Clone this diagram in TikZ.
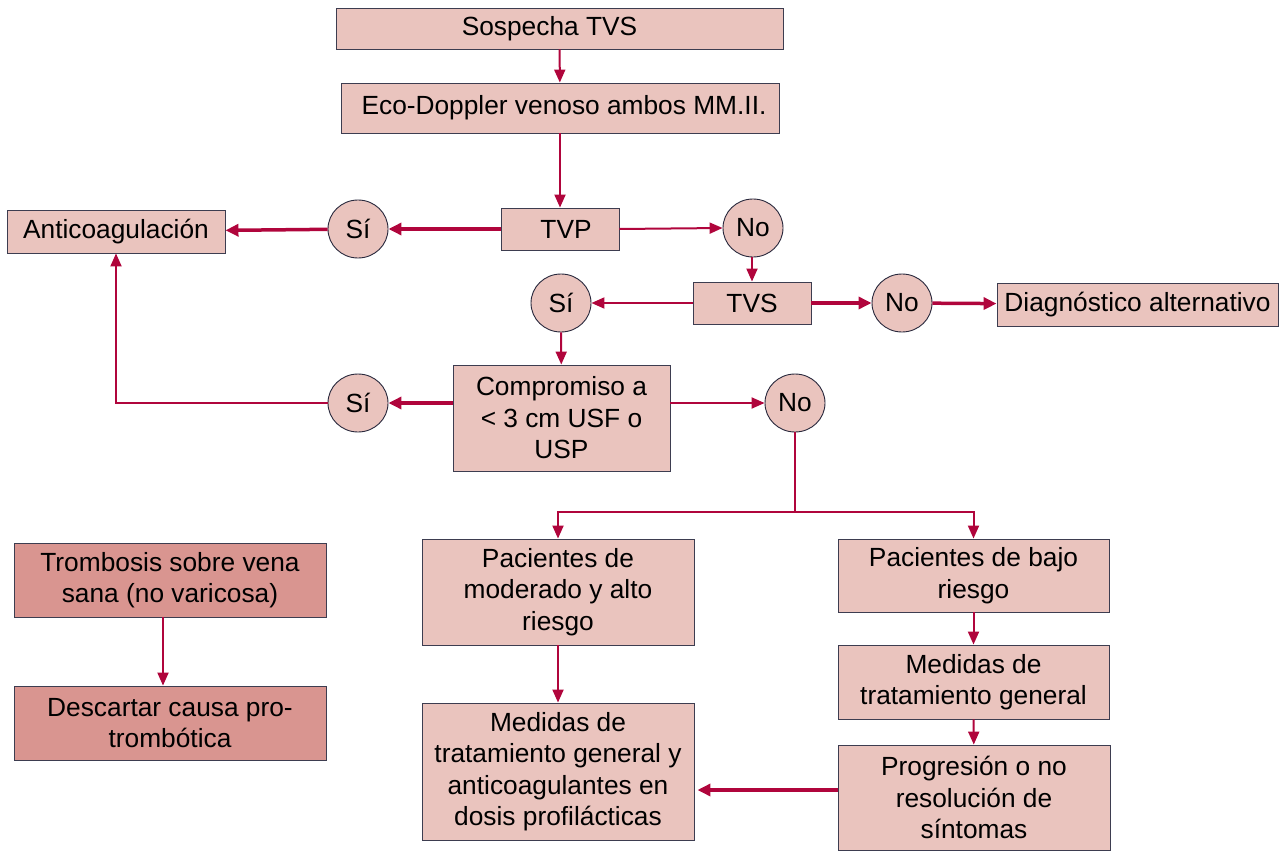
\documentclass[tikz,border=0pt]{standalone}
\usepackage{fontspec}
\setmainfont{Liberation Sans}
\usetikzlibrary{shapes.geometric,arrows.meta}
\definecolor{boxfill}{RGB}{234,196,190}
\definecolor{darkfill}{RGB}{217,149,144}
\definecolor{arrowc}{RGB}{176,5,60}
\definecolor{edge}{RGB}{40,40,60}
\tikzset{
  box/.style={draw=edge!90, line width=0.9pt, fill=boxfill, inner sep=0pt, align=center, font=\fontsize{26.3}{31.5}\selectfont},
  dbox/.style={box, fill=darkfill},
  oval/.style={ellipse, draw=edge, line width=0.9pt, fill=boxfill, inner sep=0pt, minimum width=60pt, minimum height=58pt, font=\fontsize{26.3}{31.5}\selectfont},
  arr/.style={draw=arrowc, line width=2pt, -{Triangle[length=13pt,width=11pt]}},
  tarr/.style={draw=arrowc, line width=3.5pt, -{Triangle[length=13pt,width=12pt]}},
  ln/.style={draw=arrowc, line width=2pt},
}
\begin{document}
\begin{tikzpicture}[x=1pt,y=-1pt]
\useasboundingbox (0,0) rectangle (1282,853);
% boxes
\node[box, minimum width=447pt, minimum height=41pt] (sos) at (559.5,28.5) {Sospecha TVS\hspace*{20pt}};
\node[box, minimum width=438pt, minimum height=50pt] (eco) at (560,108) {\hspace*{8pt}Eco-Doppler venoso ambos MM.II.};
\node[box, minimum width=118pt, minimum height=42pt] (tvp) at (560,229) {\hspace*{12pt}TVP};
\node[oval] (si1) at (358,229) {Sí};
\node[box, minimum width=218pt, minimum height=43pt] (anti) at (116,231.5) {Anticoagulación};
\node[oval] (no1) at (753,228) {No};
\node[box, minimum width=118pt, minimum height=42pt] (tvs) at (752,303) {TVS};
\node[oval] (si2) at (561,303) {Sí};
\node[oval] (no2) at (902,303) {No};
\node[box, minimum width=281pt, minimum height=43pt] (diag) at (1137.5,304.5) {Diagnóstico alternativo};
\node[box, minimum width=217pt, minimum height=106pt] (comp) at (561.5,418) {Compromiso a\\ < 3 cm USF o\\ USP};
\node[oval] (si3) at (358,403) {Sí};
\node[oval] (no3) at (795,403) {No};
\node[box, minimum width=272pt, minimum height=106pt] (mod) at (558,592) {Pacientes de\\ moderado y alto\\ riesgo};
\node[box, minimum width=271pt, minimum height=73pt] (bajo) at (973.5,575.5) {Pacientes de bajo\\ riesgo};
\node[box, minimum width=271pt, minimum height=74pt] (gen) at (973.5,682) {Medidas de\\ tratamiento general};
\node[box, minimum width=272pt, minimum height=105pt] (prog) at (974,797.5) {Progresión o no\\ resolución de\\ síntomas};
\node[box, minimum width=272pt, minimum height=137pt] (prof) at (558,771.5) {Medidas de\\ tratamiento general y\\ anticoagulantes en\\ dosis profilácticas};
\node[dbox, minimum width=312pt, minimum height=74pt] (tromb) at (170,580) {Trombosis sobre vena\\ sana (no varicosa)};
\node[dbox, minimum width=312pt, minimum height=74pt] (desc) at (170,723) {Descartar causa pro-\\ trombótica};
% connectors
\draw[arr] (sos) -- (eco);
\draw[arr] (eco) -- (tvp);
\draw[tarr] (tvp) -- (si1);
\draw[tarr] (si1) -- (anti);
\draw[arr] (tvp.east) -- (no1.west);
\draw[arr] (no1.south -| tvs.north) -- (tvs.north);
\draw[arr] (tvs.west) -- (si2.east);
\draw[tarr] (tvs) -- (no2);
\draw[tarr] (no2) -- (diag);
\draw[arr] (si2) -- (comp);
\draw[tarr] (comp.west |- si3) -- (si3.east);
\draw[arr] (comp.east |- no3) -- (no3.west);
\draw[arr] (si3.west) -| (anti.south);
\coordinate (j) at (795,512);
\draw[ln] (no3.south) -- (j);
\draw[arr] (j) -| (mod.north);
\draw[arr] (j) -| (bajo.north);
\draw[arr] (mod) -- (prof);
\draw[arr] (bajo) -- (gen);
\draw[arr] (gen) -- (prog);
\draw[tarr, shorten >=3pt] (prog.west |- 0,790) -- (prof.east |- 0,790);
\draw[arr] (tromb.south -| 163,0) -- (desc.north -| 163,0);
\end{tikzpicture}
\end{document}
